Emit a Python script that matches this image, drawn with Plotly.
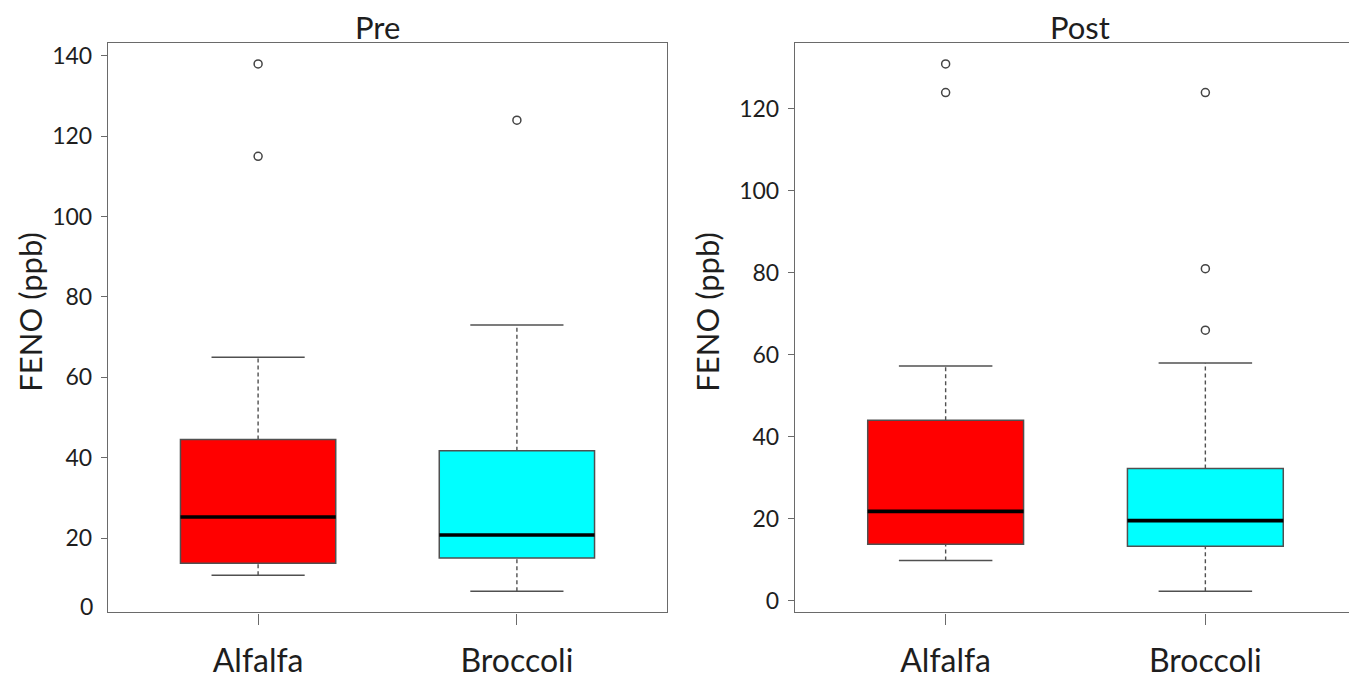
import plotly.graph_objects as go

# ---------------- data ----------------
categories = ["Alfalfa", "Broccoli"]
panels = ["Pre", "Post"]
fill_colors = ["#FF0000", "#00FFFF"]

pre_lower_whisker = [10.75, 6.75]
pre_q1 = [13.75, 15.0]
pre_median = [25.25, 20.75]
pre_q3 = [44.5, 41.75]
pre_upper_whisker = [65.0, 73.0]
pre_outliers = [[115, 138], [124]]

post_lower_whisker = [9.75, 2.25]
post_q1 = [13.75, 13.25]
post_median = [21.75, 19.5]
post_q3 = [44.0, 32.25]
post_upper_whisker = [57.25, 58.0]
post_outliers = [[124, 131], [66, 81, 124]]

y_tick_values = [0, 20, 40, 60, 80, 100, 120, 140]
y_axis_title = "FENO (ppb)"

# ---------------- styling ----------------
FONT = "Lato, 'Open Sans', sans-serif"
TEXT = "#1e1e1e"
FRAME = "#6a6a6a"
EDGE = "#505050"
BOX_WIDTH = 0.6
CAP_WIDTH = 0.36
W, H = 1357, 683
OFF = 8  # the page body margin shifts the figure by this many pixels


def px_x(sx):
    return (sx - OFF) / W


def px_y(sy):
    return 1 - (sy - OFF) / H


panel_data = [
    dict(lw=pre_lower_whisker, q1=pre_q1, med=pre_median, q3=pre_q3,
         uw=pre_upper_whisker, out=pre_outliers),
    dict(lw=post_lower_whisker, q1=post_q1, med=post_median, q3=post_q3,
         uw=post_upper_whisker, out=post_outliers),
]

x_domains = [[px_x(108), px_x(667)], [px_x(795), px_x(1356)]]
y_domain = [px_y(613), px_y(41)]

fig = go.Figure()

for p, d in enumerate(panel_data):
    xa = "x" if p == 0 else "x2"
    ya = "y" if p == 0 else "y2"
    for i, cat in enumerate(categories):
        pos = i + 1
        # dashed whiskers
        for seg in ([d["q3"][i], d["uw"][i]], [d["lw"][i], d["q1"][i]]):
            fig.add_trace(go.Scatter(
                x=[pos, pos], y=seg, mode="lines", xaxis=xa, yaxis=ya,
                line=dict(color=EDGE, width=1.4, dash="4px,3px"),
                showlegend=False, hoverinfo="skip"))
        # box
        fig.add_trace(go.Box(
            x=[pos], q1=[d["q1"][i]], median=[d["med"][i]], q3=[d["q3"][i]],
            lowerfence=[d["q1"][i]], upperfence=[d["q3"][i]],
            width=BOX_WIDTH, fillcolor=fill_colors[i],
            line=dict(color=EDGE, width=1.5), whiskerwidth=0,
            boxpoints=False, xaxis=xa, yaxis=ya, showlegend=False, name=cat))
        # thick median
        fig.add_trace(go.Scatter(
            x=[pos - BOX_WIDTH / 2, pos + BOX_WIDTH / 2],
            y=[d["med"][i], d["med"][i]], mode="lines", xaxis=xa, yaxis=ya,
            line=dict(color="#000000", width=3.6),
            showlegend=False, hoverinfo="skip"))
        # staples
        for v in (d["lw"][i], d["uw"][i]):
            fig.add_trace(go.Scatter(
                x=[pos - CAP_WIDTH / 2, pos + CAP_WIDTH / 2], y=[v, v],
                mode="lines", xaxis=xa, yaxis=ya,
                line=dict(color=EDGE, width=1.5),
                showlegend=False, hoverinfo="skip"))
        # outliers
        fig.add_trace(go.Scatter(
            x=[pos] * len(d["out"][i]), y=d["out"][i], mode="markers",
            xaxis=xa, yaxis=ya,
            marker=dict(symbol="circle-open", size=8, color="#444444",
                        line=dict(width=1.5, color="#444444")),
            showlegend=False, hoverinfo="skip"))


def y_range(d):
    lo = min(min(d["lw"]), min(min(o) for o in d["out"]))
    hi = max(max(d["uw"]), max(max(o) for o in d["out"]))
    ext = 0.04 * (hi - lo)
    return [lo - ext, hi + ext]


axis_common = dict(showline=True, mirror=True, linecolor=FRAME, linewidth=1.4,
                   showgrid=False, zeroline=False, ticks="outside",
                   tickcolor=FRAME, tickwidth=1.4)

layout = dict(
    width=W, height=H, margin=dict(l=0, r=0, t=0, b=0),
    paper_bgcolor="white", plot_bgcolor="white",
    font=dict(family=FONT, color=TEXT), showlegend=False,
)
for p in range(2):
    sx = "" if p == 0 else "2"
    layout["xaxis" + sx] = dict(
        axis_common, domain=x_domains[p], range=[0.42, 2.58],
        tickvals=[1, 2], ticktext=categories, ticklen=11,
        ticklabelstandoff=9, anchor="y" + sx,
        tickfont=dict(family=FONT, size=32, color=TEXT))
    layout["yaxis" + sx] = dict(
        axis_common, domain=y_domain, range=y_range(panel_data[p]),
        tickvals=y_tick_values, ticklen=6, ticklabelstandoff=4,
        anchor="x" + sx,
        tickfont=dict(family=FONT, size=23, color=TEXT))

fig.update_layout(**layout)

# panel titles
for title, cx in zip(panels, [377, 1080]):
    fig.add_annotation(text=title, x=px_x(cx), y=px_y(25), xref="paper",
                       yref="paper", showarrow=False, xanchor="center",
                       yanchor="middle", font=dict(family=FONT, size=31, color=TEXT))
# y-axis titles
for cx in (30, 707):
    fig.add_annotation(text=y_axis_title, x=px_x(cx), y=px_y(312),
                       xref="paper", yref="paper", showarrow=False,
                       textangle=-90, xanchor="center", yanchor="middle",
                       font=dict(family=FONT, size=31, color=TEXT))
# the "0" label printed at the bottom of the left panel
fig.add_annotation(text="0", xref="x domain", yref="y domain", x=0, y=0,
                   xanchor="right", yanchor="middle", xshift=-13, yshift=6,
                   showarrow=False, font=dict(family=FONT, size=23, color=TEXT))

fig.write_html("out.html")
